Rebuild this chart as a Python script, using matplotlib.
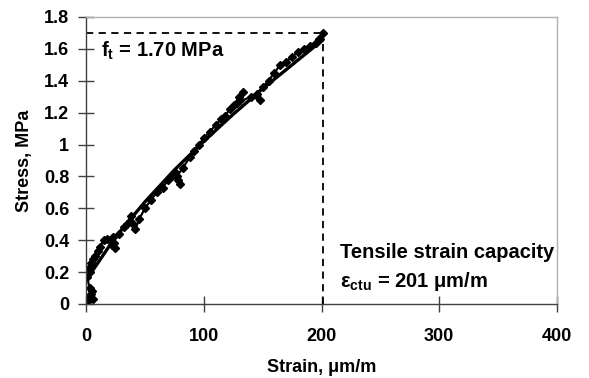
import matplotlib
matplotlib.use("Agg")
import matplotlib.pyplot as plt

plt.rcParams['font.family'] = ['Liberation Sans', 'DejaVu Sans']
plt.rcParams['font.weight'] = 'bold'
plt.rcParams['mathtext.fontset'] = 'custom'
plt.rcParams['mathtext.rm'] = 'Liberation Sans:bold'
plt.rcParams['mathtext.it'] = 'Liberation Sans:bold'
plt.rcParams['mathtext.bf'] = 'Liberation Sans:bold'
plt.rcParams['mathtext.default'] = 'regular'

# measured data (strain in micro-strain, stress in MPa)
strain = [2, 3, 5, 4, 6, 3, 1, 2, 4, 6, 3, 5, 8, 10, 12, 15, 18, 20, 22, 25,
          24, 23, 28, 32, 35, 38, 37, 40, 42, 45, 50, 55, 60, 65, 70, 73, 76, 78,
          80, 77, 82, 88, 92, 96, 100, 105, 110, 115, 118, 122, 126, 130, 133, 131,
          128, 140, 148, 145, 150, 155, 160, 165, 170, 175, 180, 185, 190, 195, 198,
          201, 199]
stress = [0.02, 0.05, 0.08, 0.06, 0.03, 0.10, 0.17, 0.22, 0.26, 0.28, 0.20, 0.25,
          0.30, 0.33, 0.36, 0.40, 0.41, 0.40, 0.37, 0.35, 0.38, 0.42, 0.44, 0.48,
          0.50, 0.55, 0.52, 0.50, 0.47, 0.53, 0.60, 0.65, 0.70, 0.73, 0.78, 0.80,
          0.83, 0.78, 0.75, 0.80, 0.85, 0.92, 0.96, 1.00, 1.04, 1.08, 1.12, 1.16,
          1.18, 1.22, 1.25, 1.30, 1.33, 1.28, 1.26, 1.30, 1.28, 1.32, 1.36, 1.40,
          1.45, 1.50, 1.52, 1.55, 1.58, 1.60, 1.62, 1.64, 1.66, 1.70, 1.66]

# trend line
fit_strain = [2, 25, 50, 75, 100, 125, 150, 175, 200]
fit_stress = [0.17, 0.42, 0.64, 0.84, 1.02, 1.19, 1.35, 1.50, 1.65]

ft = 1.70
eps_ctu = 201

fig = plt.figure(figsize=(5.89, 3.78), dpi=100)
ax = fig.add_axes([86/589, 74/378, 471/589, 287/378])

ax.plot(strain, stress, color='black', lw=1.6, marker='D', ms=4, mfc='black', mec='black')
ax.plot(fit_strain, fit_stress, color='black', lw=2.4)
ax.plot([0, eps_ctu], [ft, ft], color='black', lw=1.3, ls=(0, (4, 3)))
ax.plot([eps_ctu, eps_ctu], [0, ft], color='black', lw=1.3, ls=(0, (4, 3)))

ax.set_xlim(0, 400)
ax.set_ylim(0, 1.8)
ax.set_xticks([0, 100, 200, 300, 400])
yt = [0, 0.2, 0.4, 0.6, 0.8, 1.0, 1.2, 1.4, 1.6, 1.8]
ax.set_yticks(yt)
ax.set_yticklabels(['0', '0.2', '0.4', '0.6', '0.8', '1', '1.2', '1.4', '1.6', '1.8'])
ax.tick_params(direction='inout', length=12, width=1, colors='#404040', labelcolor='black',
               labelsize=13)
ax.tick_params(axis='x', pad=11)
ax.tick_params(axis='y', pad=6)
for lab in ax.get_xticklabels() + ax.get_yticklabels():
    lab.set_fontweight('bold')

for s in ['left', 'bottom']:
    ax.spines[s].set_color('#404040')
    ax.spines[s].set_linewidth(1.0)
for s in ['top', 'right']:
    ax.spines[s].set_color('#b0b0b0')
    ax.spines[s].set_linewidth(1.0)

ax.set_xlabel('Strain, μm/m', fontsize=13, fontweight='bold', labelpad=10)
ax.set_ylabel('Stress, MPa', fontsize=13, fontweight='bold', labelpad=8)

ax.text(13, 1.59, r'$f_t$ = 1.70 MPa', fontsize=14.5, fontweight='bold', va='center')
ax.text(216, 0.326, 'Tensile strain capacity', fontsize=14.5, fontweight='bold', va='center')
ax.text(216, 0.138, r'$ε_{ctu}$ = 201 μm/m', fontsize=14.5, fontweight='bold', va='center')

fig.savefig('out.png', dpi=100)
